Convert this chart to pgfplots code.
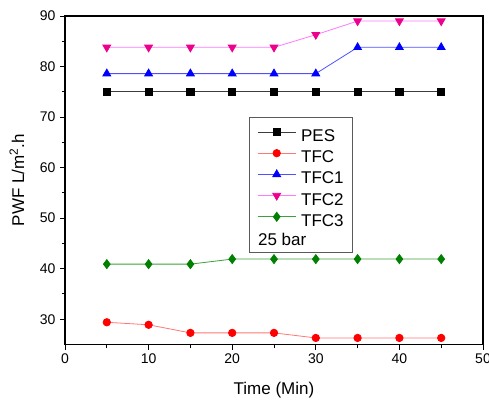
\documentclass[border=0pt]{standalone}
\usepackage{fontspec}
\setmainfont{Liberation Sans}
\usepackage{pgfplots}
\pgfplotsset{compat=1.18}
\definecolor{pesline}{RGB}{60,60,60}
\definecolor{tfcline}{RGB}{255,120,120}
\definecolor{tfconeline}{RGB}{80,80,255}
\definecolor{tfctwoline}{RGB}{255,120,255}
\definecolor{tfcthreeline}{RGB}{60,160,60}
\definecolor{dgreen}{RGB}{0,128,0}
\definecolor{legframe}{RGB}{90,90,90}
\begin{document}
\begin{tikzpicture}
\begin{axis}[
  scale only axis,
  width=418pt, height=328.5pt,
  xmin=0, xmax=50, ymin=25, ymax=90,
  xtick={0,10,20,30,40,50},
  ytick={30,40,50,60,70,80,90},
  minor x tick num=1, minor y tick num=1,
  tick align=outside,
  xtick pos=bottom, ytick pos=left,
  major tick length=5pt, minor tick length=3pt,
  axis line style={line width=1.2pt},
  every tick/.style={black, line width=1pt},
  /pgf/number format/assume math mode=true,
  ticklabel style={font=\fontsize{14}{16}\selectfont},
  xticklabel style={yshift=-1pt},
  yticklabel style={xshift=-1pt},
  xlabel={Time (Min)},
  ylabel={PWF L/m\textsuperscript{2}.h},
  label style={font=\fontsize{17}{20}\selectfont},
  xlabel style={at={(axis description cs:0.5,0)}, anchor=base, yshift=-50pt},
  ylabel style={at={(axis description cs:-0.098,0.5)}, anchor=base},
  legend cell align=left,
  legend style={at={(axis cs:22,70)}, anchor=north west, draw=legframe, line width=0.8pt,
    font=\fontsize{17}{20}\selectfont, inner xsep=8pt, inner ysep=4pt, row sep=0.2pt, column sep=4pt,
    nodes={inner sep=1pt, text height=19pt, text depth=0pt}},
  legend image code/.code={\draw[mark repeat=2,mark phase=2] plot coordinates {(0pt,0pt) (19pt,0pt) (38pt,0pt)};},
]
\addplot[pesline, line width=0.8pt, mark=square*, mark size=3.6pt, mark options={fill=black, draw=black}]
  coordinates {(5,75) (10,75) (15,75) (20,75) (25,75) (30,75) (35,75) (40,75) (45,75)};
\addlegendentry{PES}
\addplot[tfcline, line width=0.8pt, mark=*, mark size=3.7pt, mark options={fill=red, draw=red}]
  coordinates {(5,29.4) (10,28.9) (15,27.3) (20,27.3) (25,27.3) (30,26.3) (35,26.3) (40,26.3) (45,26.3)};
\addlegendentry{TFC}
\addplot[tfconeline, line width=0.8pt, mark=triangle*, mark size=4.5pt, mark options={fill=blue, draw=blue}]
  coordinates {(5,78.6) (10,78.6) (15,78.6) (20,78.6) (25,78.6) (30,78.6) (35,83.8) (40,83.8) (45,83.8)};
\addlegendentry{TFC1}
\addplot[tfctwoline, line width=0.8pt, mark=triangle*, mark size=4.5pt, mark options={fill=magenta, draw=magenta, rotate=180}]
  coordinates {(5,83.8) (10,83.8) (15,83.8) (20,83.8) (25,83.8) (30,86.3) (35,89) (40,89) (45,89)};
\addlegendentry{TFC2}
\addplot[tfcthreeline, line width=0.8pt, mark=diamond*, mark size=4.5pt, mark options={fill=dgreen, draw=dgreen}]
  coordinates {(5,40.9) (10,40.9) (15,40.9) (20,41.9) (25,41.9) (30,41.9) (35,41.9) (40,41.9) (45,41.9)};
\addlegendentry{TFC3}
\addlegendimage{legend image code/.code={\node[overlay, anchor=base west, inner sep=0pt, font=\fontsize{17}{20}\selectfont, black] at (0pt,-8pt) {25 bar};}}
\addlegendentry{}
\end{axis}
\pgfresetboundingbox
\path[use as bounding box] (-65pt,-54.5pt) rectangle (424pt,344.5pt);
\end{tikzpicture}
\end{document}
